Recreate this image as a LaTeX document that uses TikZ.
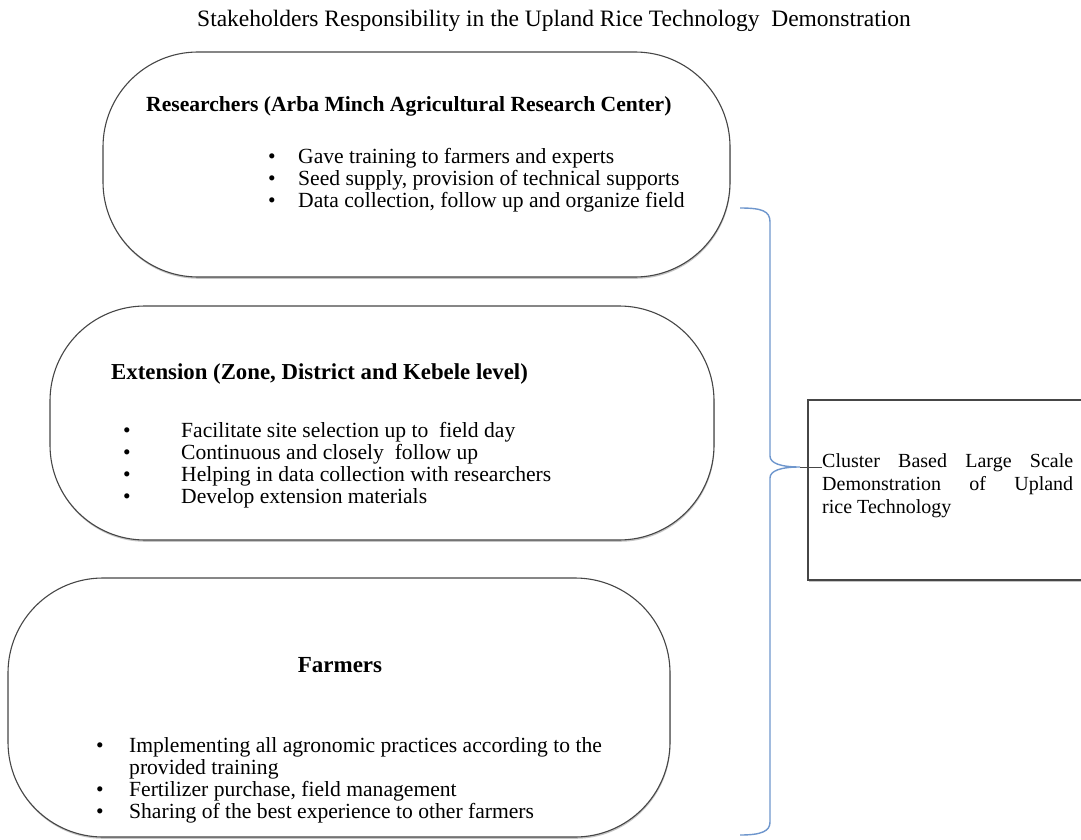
\documentclass[tikz,border=0pt]{standalone}
\usepackage{fontspec}
\setmainfont{Liberation Serif}
\usetikzlibrary{shadows}
\definecolor{bracecol}{RGB}{110,150,205}
\definecolor{edgecol}{RGB}{70,70,70}
\newcommand{\blt}[1]{\makebox[#1][l]{\textbullet}}
\begin{document}
\begin{tikzpicture}[x=1pt, y=-1pt,
  stakebox/.style={draw=edgecol, line width=1.1pt, fill=white, rounded corners=95pt,
    drop shadow={shadow xshift=0.5pt, shadow yshift=-1.8pt, fill=black!45}},
  goalbox/.style={draw=edgecol, line width=1.1pt, fill=white,
    drop shadow={shadow xshift=0.5pt, shadow yshift=-1.8pt, fill=black!45}},
  headtxt/.style={font=\fontsize{21.6}{24}\selectfont\bfseries, inner sep=0pt},
  listtxt/.style={font=\fontsize{21.6}{21.8}\selectfont, align=left, inner sep=0pt, anchor=base west},
  brace/.style={draw=bracecol, line width=1.4pt},
  link/.style={draw=edgecol, line width=0.8pt}]
\useasboundingbox (0,0) rectangle (1081,840);

% title
\node[font=\fontsize{23.5}{26}\selectfont, anchor=base west, inner sep=0pt] (title) at (197,27)
  {Stakeholders Responsibility in the Upland Rice Technology\ \ Demonstration};

% stakeholder boxes
\node[stakebox, minimum width=627pt, minimum height=225pt] (res) at (416.5,164.5) {};
\node[stakebox, minimum width=664pt, minimum height=234pt] (ext) at (382,423) {};
\node[stakebox, minimum width=662pt, minimum height=259pt] (far) at (339,707.5) {};

% goal box
\node[goalbox, minimum width=275pt, minimum height=180pt] (goal) at (945.5,490) {};

% researchers
\node[headtxt, anchor=base west] (reshead) at (146,112)
  {Researchers (Arba Minch Agricultural Research Center)};
\node[listtxt, font=\fontsize{21.6}{22}\selectfont] (reslist) at (268,207)
  {\blt{30pt}Gave training to farmers and experts\\
   \blt{30pt}Seed supply, provision of technical supports\\
   \blt{30pt}Data collection, follow up and organize field};

% extension
\node[headtxt, font=\fontsize{22.8}{25}\selectfont\bfseries, anchor=base west] (exthead) at (111,379)
  {Extension (Zone, District and Kebele level)};
\node[listtxt] (extlist) at (123,503)
  {\blt{58pt}Facilitate site selection up to\ \ field day\\
   \blt{58pt}Continuous and closely\ \ follow up\\
   \blt{58pt}Helping in data collection with researchers\\
   \blt{58pt}Develop extension materials};

% farmers
\node[headtxt, font=\fontsize{23}{25}\selectfont\bfseries, anchor=base] (farhead) at (340,672) {Farmers};
\node[listtxt] (farlist) at (96,818)
  {\blt{33pt}Implementing all agronomic practices according to the\\
   \hspace*{33pt}provided training\\
   \blt{33pt}Fertilizer purchase, field management\\
   \blt{33pt}Sharing of the best experience to other farmers};

% goal text
\node[font=\fontsize{20}{23}\selectfont, text width=251pt, align=justify, inner sep=0pt,
  anchor=north west] (goaltxt) at (822,453)
  {Cluster Based Large Scale\linebreak Demonstration of Upland\linebreak rice Technology};

% brace joining the three stakeholders to the goal
\coordinate (btop) at (740,208);
\coordinate (bbot) at (740,835);
\coordinate (btip) at (800,467);
\draw[brace] (btop) .. controls (762,208) and (770,211) .. (770,222)
  -- (770,456) .. controls (770,463) and (780,467) .. (btip)
  .. controls (780,467) and (770,471) .. (770,478)
  -- (770,822) .. controls (770,831) and (762,835) .. (bbot);
\draw[link] (btip) -- (goaltxt.west |- btip);
\end{tikzpicture}
\end{document}
